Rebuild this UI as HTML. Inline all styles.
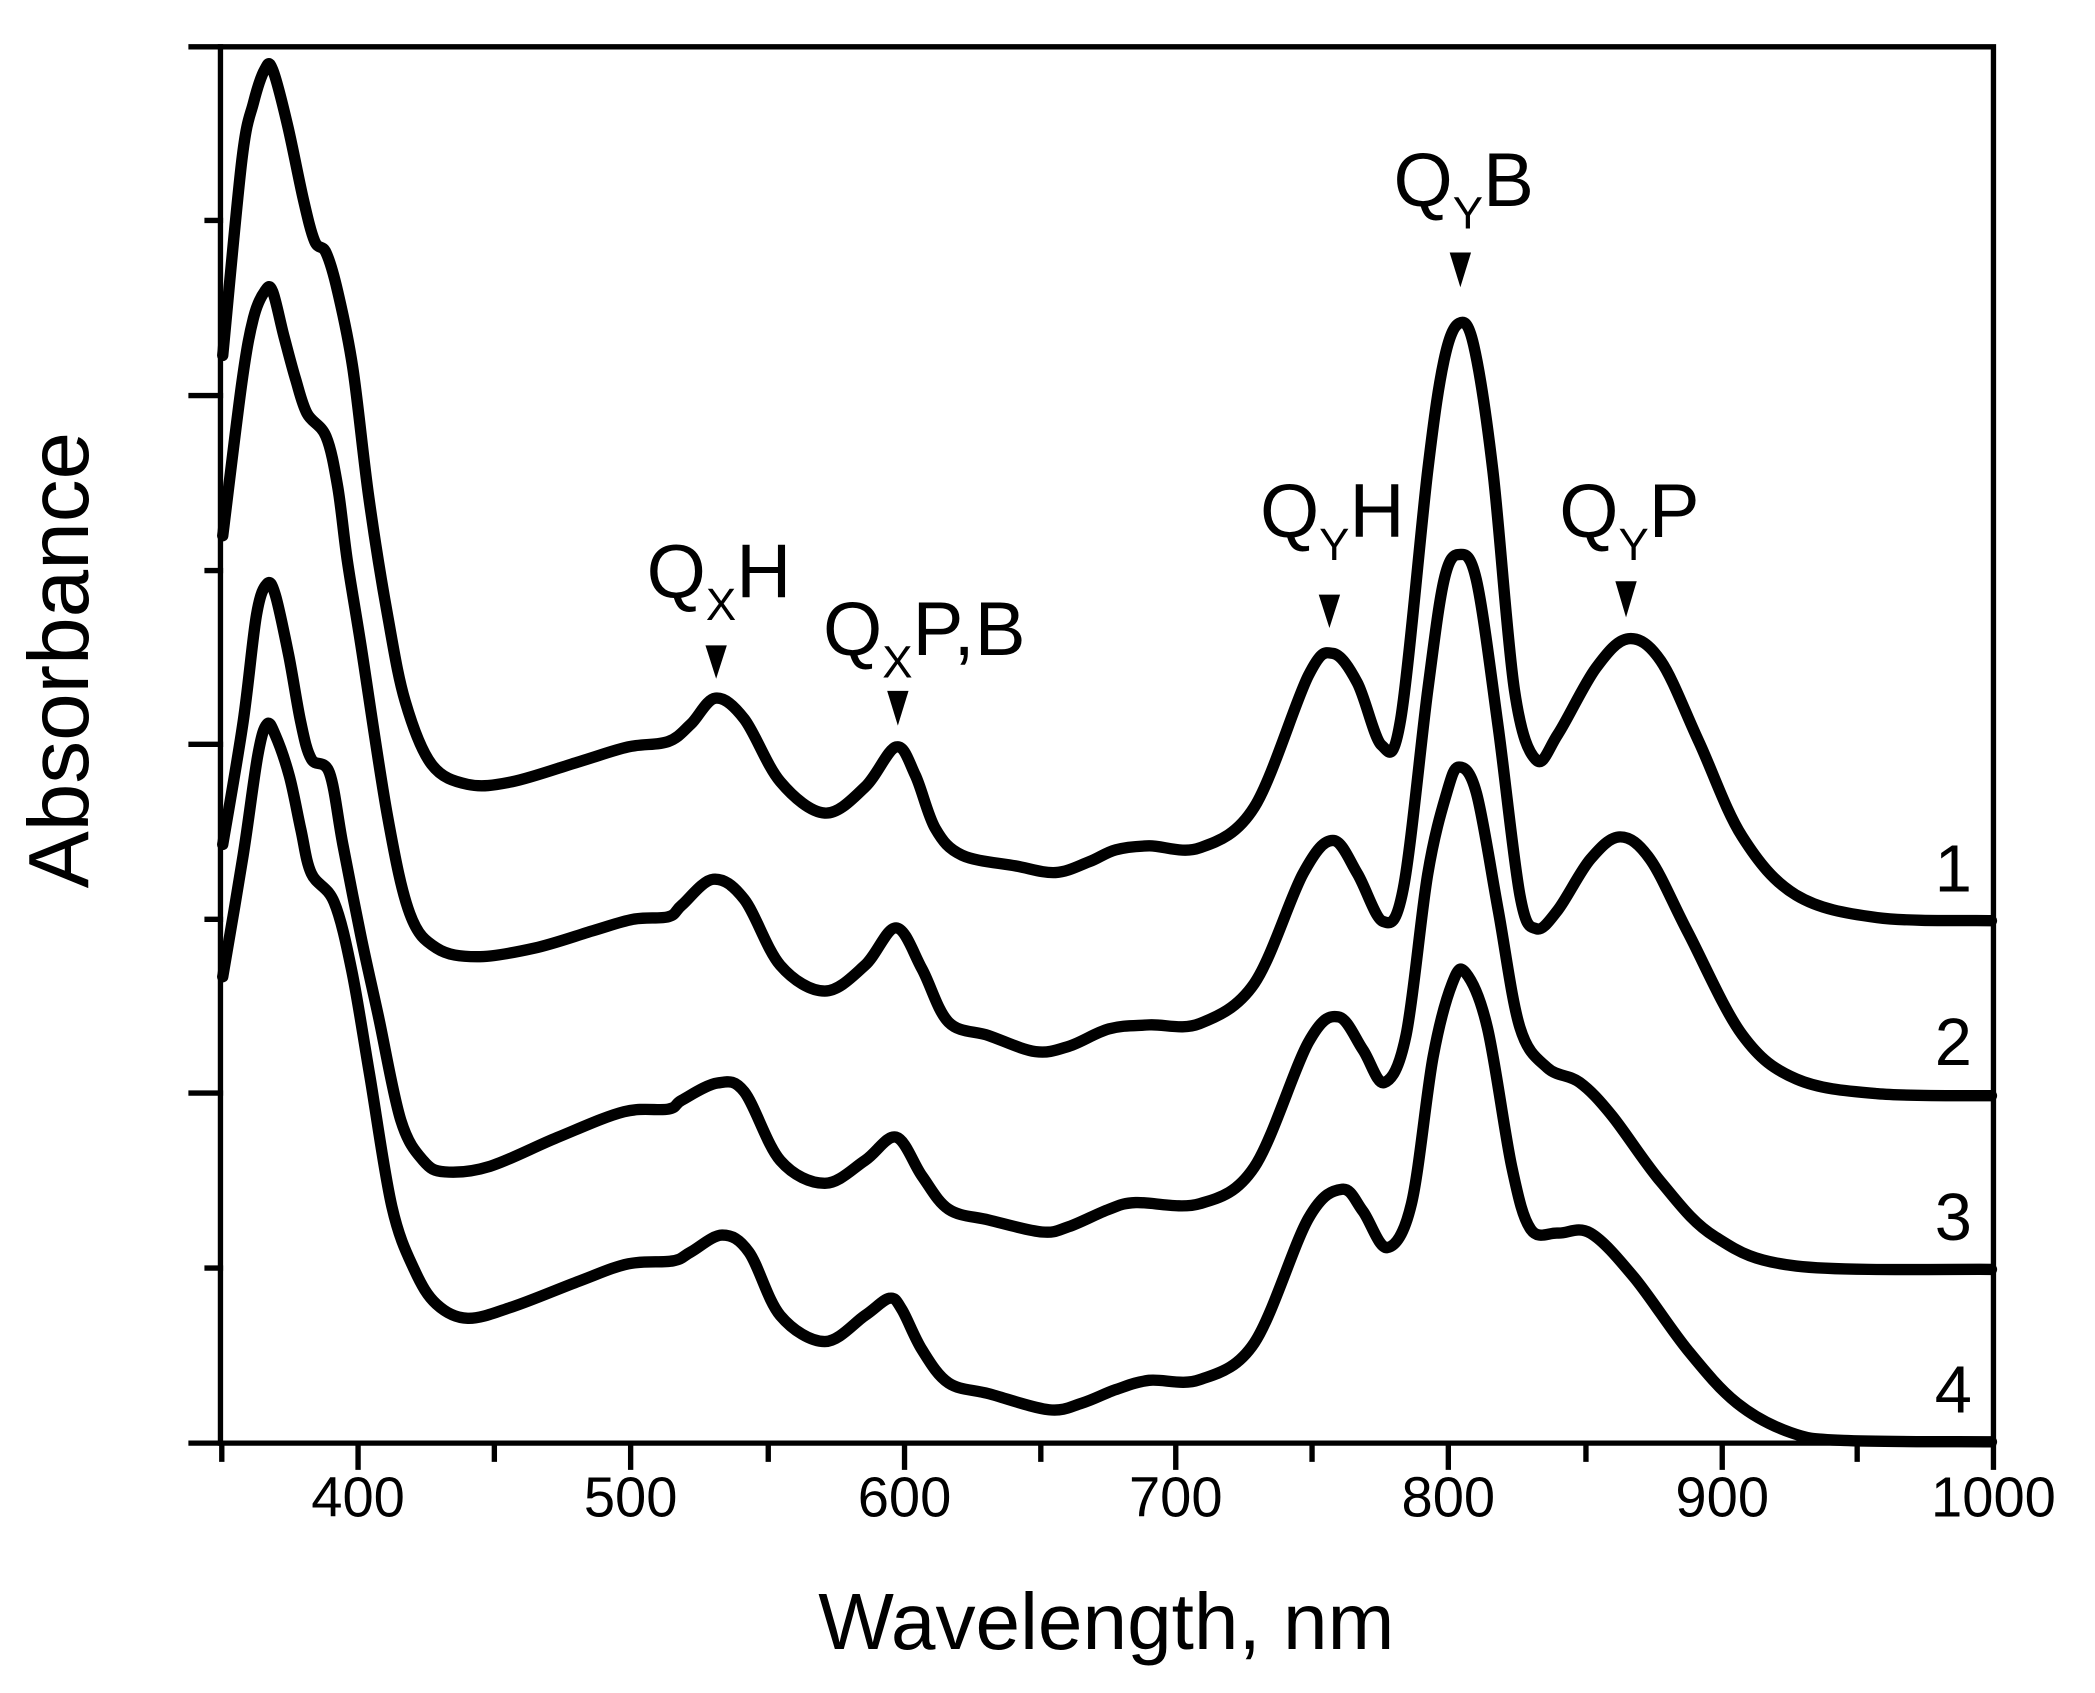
<!DOCTYPE html>
<html><head><meta charset="utf-8"><style>html,body{margin:0;padding:0;background:#fff}svg{display:block}</style></head>
<body>
<svg id="s" width="2095" height="1693" viewBox="0 0 1568 1267" preserveAspectRatio="none" xmlns="http://www.w3.org/2000/svg" font-family="Liberation Sans, Arial, sans-serif">
<g fill="none" stroke="#000" stroke-width="4" stroke-linecap="square">
<path d="M165 35 H1492 V1080 H165 Z"/>
<path d="M143 35H165 M155 165H165 M143 296H165 M155 427H165 M143 557H165 M155 688H165 M143 818H165 M155 949H165 M143 1080H165"/>
<path d="M166 1080V1092 M268 1080V1098 M370 1080V1092 M472 1080V1098 M575 1080V1092 M677 1080V1098 M779 1080V1092 M880 1080V1098 M982 1080V1092 M1084 1080V1098 M1187 1080V1092 M1289 1080V1098 M1390 1080V1092 M1492 1080V1098"/>
</g>
<g id="curves" fill="none" stroke="#000" stroke-width="8.5" stroke-linejoin="round" stroke-linecap="round">
<polyline points="166.7,266 181,120 189.7,77 198.2,52 204,52 215.4,94.5 227,149 235.5,180.5 244,189 252.7,218 264,275 276,372 290,460 303.3,525 323,572 350,587 383.5,585 433.6,570 470,559 500,555 517,542 535.5,522.5 557,538 584,585 617.3,608.5 647.4,589 670.7,559 685,580 700,620 720,640 760,648 790,653 815,645 835,636 860,633 898,634.5 938.8,604 979.3,505.5 997.6,489 1015.9,511 1034,557.7 1048.3,538.5 1068.6,352 1080.8,269.5 1092,242 1103,258.5 1117.3,352 1133.5,516.5 1149.7,568.7 1166,549.5 1194.4,500 1218.7,478 1243,494.6 1271.5,555 1303.9,626 1344.5,670 1405,686.7 1490.5,689"/>
<polyline points="166.7,401 181,286.5 189.7,238 198.2,218 204,218 212.6,252 221.2,283.6 229.8,309.4 244,326.6 252.7,364 260,420 270,482 290,610.6 306.7,683.7 326.7,709.5 357,716 400.2,709.5 443.6,696.6 473.7,688 500.4,686 510.4,677.3 533.8,658 557,673 584,722.4 617.3,741.7 647.4,722.4 670.7,694.4 690,725 710,765 740,775 775,787 800,783 830,770 860,767 898,766 938.8,736 975.3,653.7 997.6,629 1015.9,653.7 1035,689.5 1050.3,665 1068.6,516.5 1080.8,434 1092,415 1105,434 1121.3,544 1137.6,670 1149.7,695 1166,681 1190.3,643 1212.6,626.3 1235,643 1263.3,697.7 1304,774.5 1344.5,807.5 1405,818.5 1490.5,820"/>
<polyline points="166.7,632 182,540 192,460 199.8,437 206,445 216,490 225,540 233,568 246.6,578.4 256.6,632 270,700 283.3,761 300,838.4 316.7,868.5 333,877 366.8,872.8 417,851.3 467,832 500.4,830 510.4,823.3 537,810.5 557,817 584,868.5 617.3,885.6 647.4,868.5 670.7,851 690,880 710,905 740,913 780,922 800,918 830,905 850,900 898,900.8 938.8,873.4 979.3,780 1001.7,761 1020,785.5 1036,810.2 1052.4,774.5 1068.6,654 1082.8,593.4 1092,574 1105,593.4 1121.3,681 1137.6,769 1158,799 1182.2,810 1206.5,835 1243,884.4 1283.6,925.5 1344.5,947.5 1490.5,950"/>
<polyline points="166.7,731 182,640 193,565 199.8,542 206,550 216.5,580.6 225,620 233,653.6 250,675 263.3,726.6 276.6,804 293.3,903 310,950 326.7,976 350.1,986.6 383.5,978 433.6,958.7 470.3,945.8 503.7,943.6 517,937 540.5,924.3 560.5,937 584,984.5 617.3,1004 647.4,984.5 665.7,971.6 675,980 690,1010 710,1035 740,1043 785,1055 810,1050 835,1040 860,1033 898,1032.5 938.8,1005 979.3,911.8 1004.5,890 1020,906.3 1038.2,933.7 1056.4,900.8 1072.6,791 1086.9,736 1097,728 1113.2,769 1131.5,873.4 1145.7,920 1166,922.8 1190.3,922.8 1222.8,955.7 1263.3,1010.6 1300,1050 1340,1072 1380,1078 1490.5,1079"/>
</g>
<g font-size="42" text-anchor="middle">
<text x="268" y="1135">400</text><text x="472" y="1135">500</text><text x="677" y="1135">600</text><text x="880" y="1135">700</text><text x="1084" y="1135">800</text><text x="1289" y="1135">900</text><text x="1492" y="1135">1000</text>
</g>
<text x="828" y="1234" font-size="60" text-anchor="middle">Wavelength, nm</text>
<text transform="translate(66,494) rotate(-90)" font-size="64" text-anchor="middle">Absorbance</text>
<g font-size="50" text-anchor="middle">
<text x="1462" y="667">1</text><text x="1462" y="797">2</text><text x="1462" y="928">3</text><text x="1462" y="1057">4</text>
</g>
<g font-size="57">
<text x="484" y="447">Q<tspan font-size="34" dy="17">X</tspan><tspan dy="-17">H</tspan></text>
<text x="616" y="490">Q<tspan font-size="34" dy="17">X</tspan><tspan dy="-17">P,B</tspan></text>
<text x="943" y="402">Q<tspan font-size="34" dy="17">Y</tspan><tspan dy="-17">H</tspan></text>
<text x="1043" y="154">Q<tspan font-size="34" dy="17">Y</tspan><tspan dy="-17">B</tspan></text>
<text x="1167" y="402">Q<tspan font-size="34" dy="17">Y</tspan><tspan dy="-17">P</tspan></text>
</g>
<g fill="#000">
<path d="M528 483H544L536 508Z"/>
<path d="M664 517H680L672 543Z"/>
<path d="M987 445H1003L995 470Z"/>
<path d="M1085 189H1101L1093 215Z"/>
<path d="M1209 435H1225L1217 462Z"/>
</g>
</svg>
<script>
(function(){
var ns="http://www.w3.org/2000/svg";
var pls=document.querySelectorAll('#curves polyline');
for(var k=0;k<pls.length;k++){
 var pl=pls[k];
 var p=pl.getAttribute('points').trim().split(/\s+/).map(function(s){var a=s.split(',');return [+a[0],+a[1]];});
 var d='M'+p[0][0]+' '+p[0][1];
 for(var i=0;i<p.length-1;i++){
  var p0=p[i>0?i-1:0],p1=p[i],p2=p[i+1],p3=p[i+2<p.length?i+2:i+1];
  var c1x=p1[0]+(p2[0]-p0[0])/6,c1y=p1[1]+(p2[1]-p0[1])/6;
  var c2x=p2[0]-(p3[0]-p1[0])/6,c2y=p2[1]-(p3[1]-p1[1])/6;
  d+=' C'+c1x.toFixed(1)+' '+c1y.toFixed(1)+' '+c2x.toFixed(1)+' '+c2y.toFixed(1)+' '+p2[0]+' '+p2[1];
 }
 var path=document.createElementNS(ns,'path');
 path.setAttribute('d',d);
 pl.parentNode.replaceChild(path,pl);
}
})();
</script>
</body></html>
